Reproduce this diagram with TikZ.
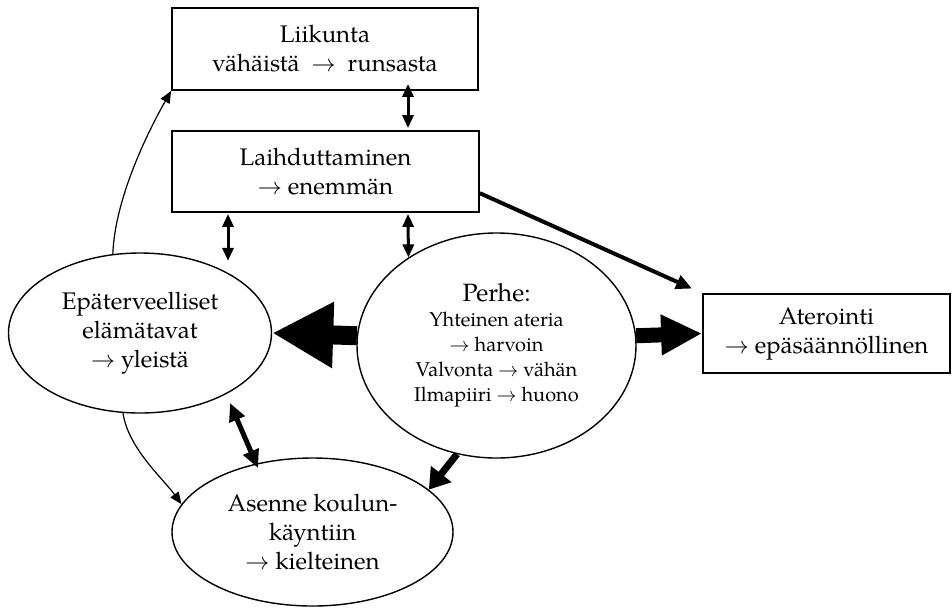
\documentclass[tikz,border=0pt]{standalone}
\usepackage{fontspec}
\setmainfont{TeX Gyre Pagella}
\usetikzlibrary{arrows.meta,shapes.geometric,calc}

\begin{document}
\begin{tikzpicture}[x=0.5pt,y=-0.5pt,>=Latex,
  font=\fontsize{12}{14.5}\selectfont,
  box/.style={draw,line width=0.9pt,inner sep=0pt,align=center},
  oval/.style={draw,ellipse,line width=0.7pt,inner sep=0pt,align=center},
  thinarr/.style={-{Triangle[length=6pt,width=5pt]},line width=0.6pt},
  twoway/.style={{Triangle[length=6.5pt,width=5.5pt]}-{Triangle[length=6.5pt,width=5.5pt]},line width=1.5pt},
  fatarr/.style={-{Triangle[length=8pt,width=7pt]},line width=2pt}]
  \useasboundingbox (0,0) rectangle (952,607);
  % boxes and ovals
  \node[box,minimum width=153pt,minimum height=41pt] (liikunta) at (325,49)
    {Liikunta\\vähäistä \ $\rightarrow$ \ runsasta};
  \node[box,minimum width=153.5pt,minimum height=40.5pt] (laihdut) at (325.5,171.5)
    {Laihduttaminen\\$\rightarrow$ enemmän};
  \node[box,minimum width=123.5pt,minimum height=39.5pt] (ateria) at (826.5,333.5)
    {Aterointi\\$\rightarrow$ epäsäännöllinen};
  \node[oval,minimum width=131.5pt,minimum height=80pt] (elama) at (140,333)
    {Epäterveelliset\\elämätavat\\$\rightarrow$ yleistä};
  \node[oval,minimum width=139.5pt,minimum height=112.5pt,font=\fontsize{10}{12.5}\selectfont] (perhe) at (496.5,345.5)
    {{\fontsize{12.5}{12.5}\selectfont Perhe:}\\Yhteinen ateria\\$\rightarrow$ harvoin\\
     Valvonta $\rightarrow$ vähän\\Ilmapiiri $\rightarrow$ huono};
  \node[oval,minimum width=140.5pt,minimum height=74pt] (asenne) at (312.5,532)
    {Asenne koulun-\\käyntiin\\$\rightarrow$ kielteinen};
  % free ends
  \coordinate (lk) at ($(liikunta.south)+(83,-7)$);
  \coordinate (lh) at ($(laihdut.north)+(82.5,-2)$);
  \coordinate (la) at ($(laihdut.south)+(-97.5,1)$);
  \coordinate (lb) at ($(laihdut.south)+(-97.5,48)$);
  \coordinate (lc) at ($(laihdut.south)+(82.5,1)$);
  \coordinate (ea) at (230,403);
  \coordinate (eb) at (258,468);
  % connectors
  \draw[twoway] (lk) -- (lh);
  \draw[twoway] (la) -- (lb);
  \draw[twoway] (lc) -- (perhe.135.5);
  \draw[twoway,line width=2.5pt,{Triangle[length=9pt,width=8pt]}-{Triangle[length=9pt,width=8pt]}] (ea) -- (eb);
  \draw[fatarr,shorten >=5.5pt] (laihdut.-8) -- (ateria.north west);
  \draw[thinarr] (elama.109) .. controls +(2,-54) and +(-25,44) .. (liikunta.south west);
  \draw[thinarr] (elama.258) .. controls +(5,35) and +(-18,-25) .. (asenne.168);
  \draw[line width=9.5pt,-{Triangle[length=30.5pt,width=31pt]}] (perhe.176) -- (elama.east);
  \draw[line width=7.5pt,-{Triangle[length=20.5pt,width=19pt]}] (perhe.4) -- (ateria.west);
  \draw[line width=3.5pt,-{Triangle[length=10pt,width=12.5pt]}] (perhe.250.5) -- (asenne.20);
\end{tikzpicture}
\end{document}
